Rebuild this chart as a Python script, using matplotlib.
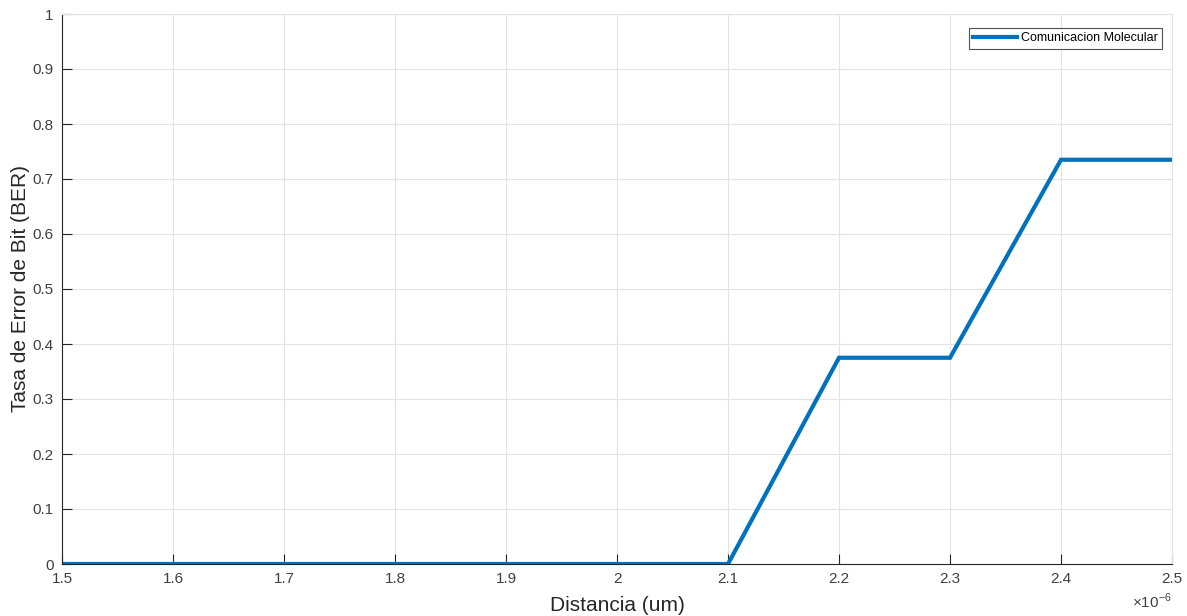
import matplotlib
matplotlib.use("Agg")
import matplotlib.pyplot as plt
from matplotlib.ticker import FuncFormatter, MultipleLocator

plt.rcParams['font.family'] = ['Liberation Sans', 'DejaVu Sans']
plt.rcParams['mathtext.fontset'] = 'custom'
plt.rcParams['mathtext.rm'] = 'Liberation Sans'

distance_um = [1.5, 1.6, 1.7, 1.8, 1.9, 2.0, 2.1, 2.2, 2.3, 2.4, 2.5]
ber = [0, 0, 0, 0, 0, 0, 0, 0.375, 0.375, 0.735, 0.735]
series_label = 'Comunicacion Molecular'

x_m = [d * 1e-6 for d in distance_um]

fig = plt.figure(figsize=(11.87, 6.16), dpi=100)
ax = fig.add_axes([62/1187, 1 - 564/616, (1172-62)/1187, (564-14)/616])

ax.plot(x_m, ber, color='#0072BD', linewidth=3.0, label=series_label, solid_joinstyle='miter')
ax.set_xlim(1.5e-6, 2.5e-6)
ax.set_ylim(0, 1)
ax.xaxis.set_major_locator(MultipleLocator(0.1e-6))
ax.yaxis.set_major_locator(MultipleLocator(0.1))

def xfmt(v, pos):
    s = f"{v*1e6:.1f}"
    if s.endswith('.0'):
        s = s[:-2]
    return s

def yfmt(v, pos):
    s = f"{v:.1f}"
    if s.endswith('.0'):
        s = s[:-2]
    return s

ax.xaxis.set_major_formatter(FuncFormatter(xfmt))
ax.yaxis.set_major_formatter(FuncFormatter(yfmt))

ax.grid(True, color='#e3e3e3', linewidth=0.8)
ax.set_axisbelow(True)
for name, sp in ax.spines.items():
    if name in ('left', 'bottom'):
        sp.set_color('#262626')
        sp.set_linewidth(0.8)
    else:
        sp.set_color('#e3e3e3')
        sp.set_linewidth(0.8)
ax.tick_params(axis='both', direction='in', length=7.5, width=0.8, colors='#262626',
               labelsize=11, labelcolor='#404040', top=False, right=False)
ax.tick_params(axis='x', pad=6)
ax.tick_params(axis='y', pad=6)

ax.set_xlabel('Distancia (um)', fontsize=15, color='#262626', labelpad=7)
ax.set_ylabel('Tasa de Error de Bit (BER)', fontsize=15, color='#262626', labelpad=2)

ax.text(1.0, -0.068, r'$\times$10$^{-6}$', transform=ax.transAxes, ha='right', va='center',
        fontsize=11, color='#404040')

leg = ax.legend(loc='upper right', fontsize=9, frameon=True, fancybox=False,
                edgecolor='#262626', handlelength=3.5, borderpad=0.35, handletextpad=0.3,
                borderaxespad=0, bbox_to_anchor=(0.991, 0.9745))
leg.get_frame().set_linewidth(0.8)

fig.savefig('out.png', dpi=100)
